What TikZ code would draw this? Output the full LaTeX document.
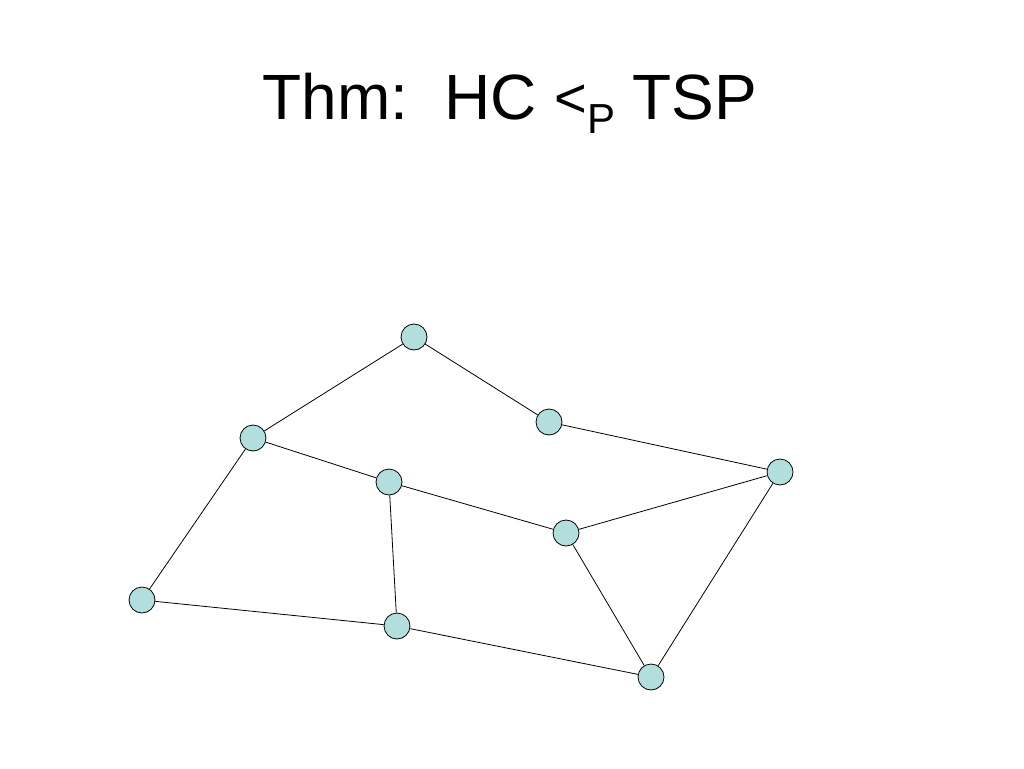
\documentclass[tikz,border=0pt]{standalone}
\usepackage{fontspec}
\setmainfont{Liberation Sans}
\definecolor{nodefill}{RGB}{178,222,222}
\tikzset{
  vtx/.style={circle, draw=black, fill=nodefill, line width=0.8pt, minimum size=26pt, inner sep=0pt},
  edge/.style={draw=black, line width=0.8pt}
}
\begin{document}
\begin{tikzpicture}[x=1pt,y=-1pt]
\useasboundingbox (0,0) rectangle (1024,768);
\node[anchor=base, inner sep=0pt] (title) at (510,119)
  {\fontsize{64}{70}\selectfont Thm:\ \ HC \raisebox{2pt}{\fontsize{56}{60}\selectfont<}\raisebox{-14pt}{\fontsize{42}{46}\selectfont P} TSP};
\node[vtx] (A) at (414,337) {};
\node[vtx] (B) at (549,422) {};
\node[vtx] (C) at (253,438) {};
\node[vtx] (D) at (389,482) {};
\node[vtx] (E) at (780,472) {};
\node[vtx] (F) at (566,533) {};
\node[vtx] (G) at (142,600) {};
\node[vtx] (H) at (397,626) {};
\node[vtx] (I) at (651,677) {};
\draw[edge] (C) -- (A);
\draw[edge] (A) -- (B);
\draw[edge] (B) -- (E);
\draw[edge] (C) -- (D);
\draw[edge] (D) -- (F);
\draw[edge] (F) -- (E);
\draw[edge] (C) -- (G);
\draw[edge] (G) -- (H);
\draw[edge] (D) -- (H);
\draw[edge] (H) -- (I);
\draw[edge] (F) -- (I);
\draw[edge] (E) -- (I);
\end{tikzpicture}
\end{document}
